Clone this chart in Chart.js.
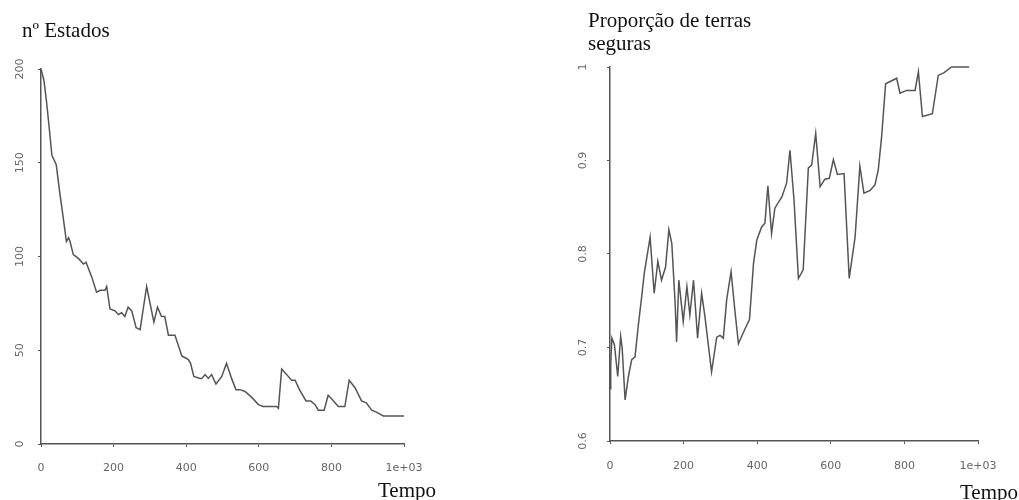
<!DOCTYPE html>
<html>
<head>
<meta charset="utf-8">
<script src="https://cdn.jsdelivr.net/npm/chart.js@4"></script>
<style>
  body { margin: 0; background: #fff; width: 1019px; height: 500px; position: relative; overflow: hidden; }
  .box { position: absolute; top: 0; width: 509px; height: 500px; }
  .lbl { position: absolute; font-family: "Liberation Serif", "Times New Roman", serif; font-size: 21px; color: #111; white-space: nowrap; line-height: 23px; }
</style>
</head>
<body>
<div class="box" style="left:0"><canvas id="estados"></canvas></div>
<div class="box" style="left:510px"><canvas id="terras"></canvas></div>
<div class="lbl" style="left:22px; top:19px;">nº Estados</div>
<div class="lbl" style="left:588px; top:9px;">Proporção de terras<br>seguras</div>
<div class="lbl" style="left:378px; top:479px;">Tempo</div>
<div class="lbl" style="left:960px; top:481px;">Tempo</div>
<script>
// left panel: number of states over time
const tempoEstados = [0, 8, 15, 24, 30, 42, 51, 61, 70, 76, 80, 89, 103, 117, 124, 140, 153, 163, 176, 181,
  190, 204, 213, 222, 231, 240, 250, 262, 273, 291, 311, 321, 332, 341, 351, 369, 388, 397, 406, 412,
  421, 438, 443, 452, 461, 470, 482, 498, 511, 525, 537, 548, 562, 580, 599, 612, 649, 654, 663, 677,
  690, 700, 712, 730, 743, 755, 764, 780, 791, 801, 819, 837, 849, 865, 883, 896, 911, 924, 943, 1000];
const estados = [200, 194, 183, 166, 154, 149, 135, 121, 108, 110, 108, 101, 99, 96, 97, 89, 81, 82, 82, 84,
  72, 71, 69, 70, 68, 73, 71, 62, 61, 84, 65, 73, 68, 68, 58, 58, 47, 46, 45, 43,
  36, 35, 35, 37, 35, 37, 32, 36, 43, 35, 29, 29, 28, 25, 21, 20, 20, 19, 40, 37,
  34, 34, 29, 23, 23, 21, 18, 18, 26, 24, 20, 20, 34, 30, 23, 22, 18, 17, 15, 15];

// right panel: proportion of safe lands
const tempoTerras = [0, 2, 5, 12, 21, 29, 33, 41, 50, 59, 68, 77, 86, 93, 109, 120, 130, 140, 151, 160,
  168, 177, 181, 187, 199, 209, 217, 227, 238, 249, 258, 276, 290, 299, 308, 317, 329, 340, 349, 367,
  379, 390, 399, 412, 421, 429, 439, 448, 467, 480, 489, 500, 512, 525, 539, 548, 559, 571, 584, 596,
  607, 618, 636, 650, 666, 679, 690, 707, 720, 729, 738, 749, 779, 788, 806, 829, 838, 849, 876, 892,
  908, 928, 976];
const terras = [0.656, 0.683, 0.710, 0.703, 0.669, 0.712, 0.700, 0.644, 0.669, 0.687, 0.690, 0.724, 0.754, 0.779, 0.818, 0.758, 0.792, 0.772, 0.786, 0.826,
  0.811, 0.747, 0.706, 0.772, 0.728, 0.765, 0.735, 0.772, 0.710, 0.758, 0.733, 0.674, 0.711, 0.713, 0.710, 0.751, 0.781, 0.737, 0.704, 0.720,
  0.730, 0.790, 0.815, 0.829, 0.833, 0.873, 0.822, 0.849, 0.861, 0.876, 0.911, 0.858, 0.774, 0.783, 0.892, 0.895, 0.929, 0.872, 0.880, 0.881,
  0.901, 0.885, 0.886, 0.774, 0.818, 0.894, 0.865, 0.868, 0.874, 0.890, 0.925, 0.982, 0.988, 0.972, 0.975, 0.975, 0.995, 0.947, 0.950, 0.991,
  0.994, 1.0, 1.0];

const xTicks = [0, 200, 400, 600, 800, 1000];
const axisColor = '#555';
const tickFont = { family: 'DejaVu Sans', size: 11 };

// R-style vertical y tick labels
const vertLabels = {
  id: 'vertLabels',
  afterDraw(chart, args, opts) {
    const ys = chart.scales.y, ctx = chart.ctx;
    ctx.save();
    ctx.fillStyle = '#666';
    ctx.font = '11px "DejaVu Sans"';
    ctx.textAlign = 'center';
    ctx.textBaseline = 'middle';
    ys.ticks.forEach(t => {
      const py = ys.getPixelForValue(t.value);
      ctx.save();
      ctx.translate(opts.x, py);
      ctx.rotate(-Math.PI / 2);
      ctx.fillText(opts.fmt(t.value), 0, 0);
      ctx.restore();
    });
    ctx.restore();
  }
};

function makeChart(id, xs, ys, cfg) {
  return new Chart(document.getElementById(id), {
    type: 'line',
    data: {
      datasets: [{
        data: xs.map((x, i) => ({ x: x, y: ys[i] })),
        borderColor: '#555',
        borderWidth: 1.5,
        pointRadius: 0,
        tension: 0,
        clip: 6
      }]
    },
    options: {
      responsive: true,
      maintainAspectRatio: false,
      animation: false,
      events: [],
      layout: { padding: { top: cfg.top, right: cfg.right, left: 0, bottom: 0 } },
      plugins: { legend: { display: false }, tooltip: { enabled: false }, vertLabels: { x: cfg.labelX, fmt: cfg.fmt } },
      scales: {
        x: {
          type: 'linear', min: 0, max: 1000,
          afterBuildTicks: s => { s.ticks = xTicks.map(v => ({ value: v })); },
          afterFit: s => { s.height = cfg.xHeight; },
          grid: { drawOnChartArea: false, drawTicks: true, tickLength: 3, color: axisColor },
          border: { display: true, color: axisColor, width: 1.5 },
          ticks: { color: '#666', font: tickFont, padding: cfg.xPad, maxRotation: 0,
            callback: v => v === 1000 ? '1e+03' : String(v) }
        },
        y: {
          type: 'linear', min: cfg.yMin, max: cfg.yMax,
          afterBuildTicks: s => { s.ticks = cfg.yTicks.map(v => ({ value: v })); },
          afterFit: s => { s.width = cfg.yWidth; },
          grid: { drawOnChartArea: false, drawTicks: true, tickLength: 3, color: axisColor },
          border: { display: true, color: axisColor, width: 1.5 },
          ticks: { display: false }
        }
      }
    },
    plugins: [vertLabels]
  });
}

makeChart('estados', tempoEstados, estados, {
  top: 69, right: 105, yWidth: 41, xHeight: 56, xPad: 15, labelX: 20,
  yMin: 0, yMax: 200, yTicks: [0, 50, 100, 150, 200], fmt: v => String(v)
});

makeChart('terras', tempoTerras, terras, {
  top: 67, right: 41, yWidth: 100, xHeight: 59, xPad: 16, labelX: 73,
  yMin: 0.6, yMax: 1, yTicks: [0.6, 0.7, 0.8, 0.9, 1], fmt: v => String(Math.round(v * 10) / 10)
});
</script>
</body>
</html>
